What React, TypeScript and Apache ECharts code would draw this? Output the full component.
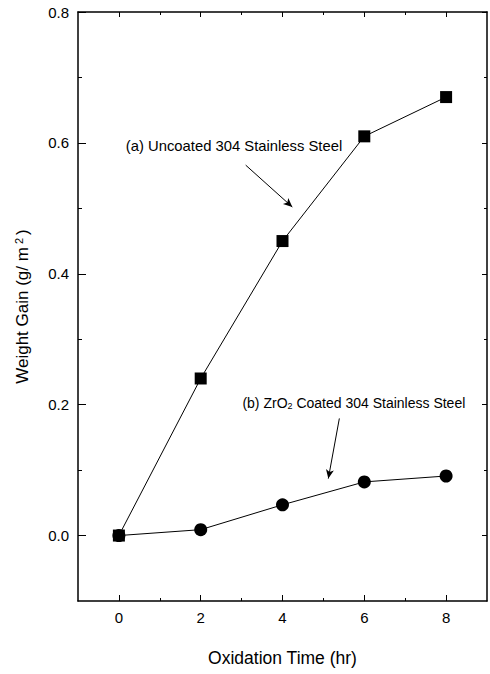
import React, { useEffect, useRef } from "react";
import * as echarts from "echarts";

// Oxidation time (hr) and weight gain (g/m^2)
const hours = [0, 2, 4, 6, 8];
const uncoated = [0, 0.24, 0.45, 0.61, 0.67];
const zro2Coated = [0, 0.009, 0.047, 0.082, 0.091];

// Tick positions
const xMajorTicks = [0, 2, 4, 6, 8];
const xMinorTicks = [1, 3, 5, 7];
const yMajorTicks = [0, 0.2, 0.4, 0.6, 0.8];
const yMinorTicks = [0.1, 0.3, 0.5, 0.7];

// Annotation anchors in data coordinates
const labelA = { text: "(a) Uncoated 304 Stainless Steel", at: [0.17, 0.595] };
const labelB = { text: "(b) ZrO{sub|2} Coated 304 Stainless Steel", at: [3.02, 0.203] };
const arrowA = [[3.1, 0.566], [4.24, 0.502]];
const arrowB = [[5.39, 0.179], [5.12, 0.087]];

const FONT = "Liberation Sans, Arial, sans-serif";
const INK = "#000";

const X_MIN = -1, X_MAX = 9, Y_MIN = -0.1, Y_MAX = 0.8;

function xAxisDef(position: "bottom" | "top", ticks: number[], len: number, withLabels: boolean, showLine: boolean) {
  return {
    type: "value",
    position,
    min: X_MIN,
    max: X_MAX,
    interval: 1,
    splitLine: { show: false },
    axisLine: { show: showLine, onZero: false, lineStyle: { color: INK, width: 1.5 } },
    axisTick: { show: true, inside: true, length: len, customValues: ticks, lineStyle: { color: INK, width: 1 } },
    axisLabel: withLabels
      ? { show: true, customValues: ticks, color: INK, fontFamily: FONT, fontSize: 15, margin: 9, formatter: (v: number) => String(v) }
      : { show: false },
  };
}

function yAxisDef(position: "left" | "right", ticks: number[], len: number, withLabels: boolean, showLine: boolean) {
  return {
    type: "value",
    position,
    min: Y_MIN,
    max: Y_MAX,
    interval: 0.1,
    splitLine: { show: false },
    axisLine: { show: showLine, onZero: false, lineStyle: { color: INK, width: 1.5 } },
    axisTick: { show: true, inside: true, length: len, customValues: ticks, lineStyle: { color: INK, width: 1 } },
    axisLabel: withLabels
      ? { show: true, customValues: ticks, color: INK, fontFamily: FONT, fontSize: 15, margin: 9, formatter: (v: number) => v.toFixed(1) }
      : { show: false },
  };
}

const arrowStyle = { color: INK, width: 1, type: "solid" };

export default function App() {
  const ref = useRef<HTMLDivElement>(null);

  useEffect(() => {
    document.body.style.margin = "0";
    if (!ref.current) return;
    const chart = echarts.init(ref.current, null, { renderer: "svg" });

    const xBottom = xAxisDef("bottom", xMajorTicks, 6, true, true) as any;
    xBottom.name = "Oxidation Time (hr)";
    xBottom.nameLocation = "middle";
    xBottom.nameGap = 48;
    xBottom.nameTextStyle = { color: INK, fontFamily: FONT, fontSize: 17.5 };

    const yLeft = yAxisDef("left", yMajorTicks, 8, true, true) as any;
    yLeft.name = "Weight Gain (g/ m{sup| 2 })";
    yLeft.nameLocation = "middle";
    yLeft.nameGap = 47;
    yLeft.nameTextStyle = {
      color: INK,
      fontFamily: FONT,
      fontSize: 17,
      rich: { sup: { fontSize: 11, fontFamily: FONT, color: INK, verticalAlign: "top", padding: [0, 0, 7, 0] } },
    };

    chart.setOption({
      animation: false,
      backgroundColor: "#fff",
      grid: { left: 78, right: 3, top: 12, bottom: 73, containLabel: false },
      xAxis: [
        xBottom,
        xAxisDef("bottom", xMinorTicks, 3, false, false),
        xAxisDef("top", xMajorTicks, 5, false, true),
        xAxisDef("top", xMinorTicks, 3, false, false),
      ],
      yAxis: [
        yLeft,
        yAxisDef("left", yMinorTicks, 4, false, false),
        yAxisDef("right", yMajorTicks, 5, false, true),
        yAxisDef("right", yMinorTicks, 3, false, false),
      ],
      series: [
        {
          name: "Uncoated 304 Stainless Steel",
          type: "line",
          data: hours.map((h, i) => [h, uncoated[i]]),
          symbol: "rect",
          symbolSize: 12,
          itemStyle: { color: INK },
          lineStyle: { color: INK, width: 1 },
          z: 3,
          markLine: {
            silent: true,
            symbol: ["none", "arrow"],
            symbolSize: [6, 9],
            label: { show: false },
            lineStyle: arrowStyle,
            data: [[{ coord: arrowA[0] }, { coord: arrowA[1] }]],
          },
        },
        {
          name: "ZrO2 Coated 304 Stainless Steel",
          type: "line",
          data: hours.map((h, i) => [h, zro2Coated[i]]),
          symbol: "circle",
          symbolSize: 13,
          itemStyle: { color: INK },
          lineStyle: { color: INK, width: 1 },
          z: 3,
          markLine: {
            silent: true,
            symbol: ["none", "arrow"],
            symbolSize: [6, 9],
            label: { show: false },
            lineStyle: arrowStyle,
            data: [[{ coord: arrowB[0] }, { coord: arrowB[1] }]],
          },
        },
      ],
    });

    // Place the annotation texts at their data-coordinate anchors
    const pa = chart.convertToPixel({ xAxisIndex: 0, yAxisIndex: 0 }, labelA.at) as number[];
    const pb = chart.convertToPixel({ xAxisIndex: 0, yAxisIndex: 0 }, labelB.at) as number[];
    chart.setOption({
      graphic: [
        {
          type: "text",
          x: pa[0],
          y: pa[1],
          style: { text: labelA.text, fill: INK, font: `14.8px ${FONT}`, textVerticalAlign: "middle", textAlign: "left" },
        },
        {
          type: "text",
          x: pb[0],
          y: pb[1],
          style: {
            text: labelB.text,
            fill: INK,
            fontFamily: FONT,
            fontSize: 14,
            verticalAlign: "middle",
            align: "left",
            rich: { sub: { fontSize: 9, fontFamily: FONT, fill: INK, verticalAlign: "bottom", padding: [6, 0, 0, 0] } },
          },
        },
      ],
    });

    return () => chart.dispose();
  }, []);

  return <div ref={ref} style={{ width: 490, height: 674 }} />;
}
